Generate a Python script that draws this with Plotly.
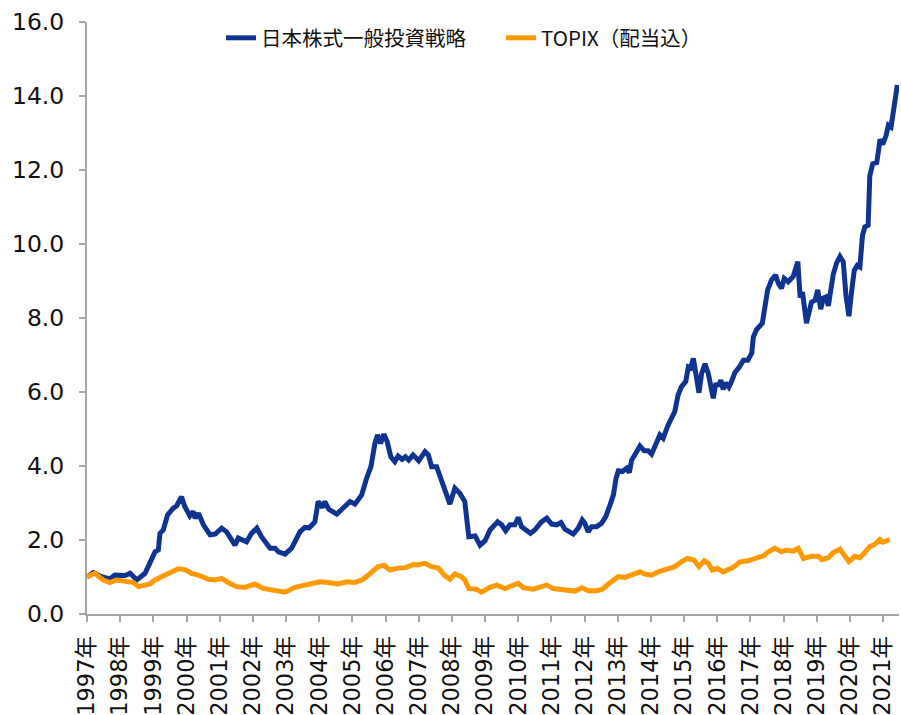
import plotly.graph_objects as go

# ---- data ----
strategy_name = "日本株式一般投資戦略"
topix_name = "TOPIX（配当込）"

strategy_t = [
    1997.00, 1997.19, 1997.44, 1997.69, 1997.84, 1998.15, 1998.30, 1998.50, 1998.75, 1998.90,
    1999.05, 1999.15, 1999.20, 1999.30, 1999.43, 1999.60, 1999.70, 1999.85, 1999.95, 2000.10,
    2000.20, 2000.26, 2000.36, 2000.51, 2000.71, 2000.86, 2001.06, 2001.21, 2001.46, 2001.56,
    2001.81, 2001.96, 2002.12, 2002.26, 2002.52, 2002.67, 2002.77, 2002.97, 2003.17, 2003.42,
    2003.57, 2003.70, 2003.87, 2003.97, 2004.10, 2004.17, 2004.29, 2004.53, 2004.72, 2004.93,
    2005.08, 2005.28, 2005.43, 2005.56, 2005.68, 2005.76, 2005.85, 2005.95, 2006.05, 2006.16,
    2006.28, 2006.38, 2006.50, 2006.60, 2006.70, 2006.83, 2007.00, 2007.19, 2007.29, 2007.39,
    2007.54, 2007.69, 2007.81, 2007.94, 2008.09, 2008.24, 2008.39, 2008.51, 2008.70, 2008.85,
    2009.00, 2009.15, 2009.38, 2009.50, 2009.62, 2009.75, 2009.90, 2010.00, 2010.10, 2010.25,
    2010.37, 2010.50, 2010.70, 2010.86, 2011.01, 2011.16, 2011.29, 2011.41, 2011.56, 2011.66,
    2011.81, 2011.93, 2012.01, 2012.11, 2012.21, 2012.36, 2012.51, 2012.64, 2012.77, 2012.87,
    2012.95, 2013.02, 2013.14, 2013.27, 2013.35, 2013.42, 2013.54, 2013.67, 2013.80, 2013.92,
    2014.02, 2014.17, 2014.27, 2014.37, 2014.52, 2014.72, 2014.82, 2014.92, 2015.05, 2015.13,
    2015.20, 2015.28, 2015.35, 2015.45, 2015.53, 2015.63, 2015.73, 2015.81, 2015.88, 2015.95,
    2016.05, 2016.11, 2016.18, 2016.25, 2016.35, 2016.43, 2016.53, 2016.66, 2016.79, 2016.92,
    2017.04, 2017.09, 2017.19, 2017.36, 2017.44, 2017.52, 2017.64, 2017.76, 2017.84, 2017.94,
    2018.02, 2018.14, 2018.29, 2018.43, 2018.50, 2018.57, 2018.69, 2018.84, 2018.95, 2019.03,
    2019.12, 2019.20, 2019.28, 2019.35, 2019.50, 2019.60, 2019.70, 2019.80, 2019.88, 2019.97,
    2020.05, 2020.13, 2020.22, 2020.30, 2020.38, 2020.45, 2020.55, 2020.60, 2020.69, 2020.81,
    2020.91, 2020.99, 2021.09, 2021.16, 2021.24, 2021.34, 2021.43,
]
strategy_v = [
    1.00, 1.12, 1.01, 0.95, 1.05, 1.04, 1.10, 0.92, 1.10, 1.37,
    1.68, 1.73, 2.18, 2.27, 2.68, 2.86, 2.92, 3.17, 2.90, 2.65,
    2.77, 2.59, 2.72, 2.41, 2.14, 2.16, 2.32, 2.22, 1.86, 2.05,
    1.95, 2.18, 2.32, 2.09, 1.78, 1.78, 1.68, 1.62, 1.78, 2.22,
    2.34, 2.33, 2.49, 3.04, 2.88, 3.04, 2.83, 2.70, 2.88, 3.04,
    2.97, 3.22, 3.67, 3.98, 4.61, 4.84, 4.61, 4.86, 4.66, 4.25,
    4.12, 4.27, 4.18, 4.25, 4.16, 4.30, 4.14, 4.39, 4.30, 3.98,
    3.98, 3.58, 3.26, 2.97, 3.40, 3.26, 3.04, 2.09, 2.11, 1.86,
    1.98, 2.27, 2.49, 2.41, 2.25, 2.41, 2.41, 2.61, 2.36, 2.27,
    2.18, 2.27, 2.49, 2.59, 2.43, 2.41, 2.47, 2.29, 2.22, 2.16,
    2.32, 2.54, 2.45, 2.22, 2.36, 2.36, 2.45, 2.63, 2.95, 3.22,
    3.67, 3.87, 3.85, 3.94, 3.82, 4.16, 4.34, 4.54, 4.41, 4.41,
    4.32, 4.61, 4.84, 4.75, 5.11, 5.47, 5.92, 6.14, 6.28, 6.68,
    6.65, 6.91, 6.50, 5.98, 6.50, 6.76, 6.50, 6.05, 5.83, 6.19,
    6.20, 6.32, 6.07, 6.25, 6.13, 6.28, 6.52, 6.67, 6.86, 6.86,
    7.05, 7.49, 7.69, 7.86, 8.31, 8.76, 9.03, 9.16, 8.94, 8.80,
    9.07, 8.98, 9.12, 9.52, 8.55, 8.70, 7.86, 8.43, 8.48, 8.76,
    8.24, 8.54, 8.57, 8.33, 9.19, 9.49, 9.66, 9.52, 8.62, 8.05,
    8.71, 9.28, 9.42, 9.38, 10.23, 10.46, 10.51, 11.84, 12.17, 12.20,
    12.83, 12.69, 12.93, 13.21, 13.16, 13.83, 14.30,
]

topix_t = [
    1997.00, 1997.24, 1997.49, 1997.69, 1997.89, 1998.20, 1998.40, 1998.55, 1998.75, 1998.90,
    1999.05, 1999.25, 1999.50, 1999.75, 1999.95, 2000.15, 2000.36, 2000.66, 2000.86, 2001.06,
    2001.26, 2001.51, 2001.76, 2002.06, 2002.31, 2002.61, 2002.97, 2003.27, 2003.57, 2003.82,
    2004.02, 2004.22, 2004.57, 2004.83, 2005.08, 2005.33, 2005.58, 2005.78, 2005.96, 2006.13,
    2006.38, 2006.59, 2006.84, 2006.99, 2007.19, 2007.39, 2007.59, 2007.77, 2007.94, 2008.09,
    2008.29, 2008.39, 2008.51, 2008.74, 2008.89, 2009.15, 2009.35, 2009.60, 2009.80, 2010.00,
    2010.15, 2010.45, 2010.70, 2010.86, 2011.06, 2011.31, 2011.56, 2011.71, 2011.93, 2012.11,
    2012.36, 2012.54, 2012.72, 2012.87, 2013.02, 2013.22, 2013.42, 2013.67, 2013.82, 2014.02,
    2014.22, 2014.47, 2014.72, 2014.92, 2015.10, 2015.30, 2015.45, 2015.61, 2015.73, 2015.85,
    2016.01, 2016.18, 2016.33, 2016.48, 2016.69, 2016.94, 2017.14, 2017.39, 2017.54, 2017.74,
    2017.94, 2018.09, 2018.29, 2018.44, 2018.60, 2018.84, 2019.05, 2019.15, 2019.35, 2019.50,
    2019.70, 2019.85, 2019.97, 2020.15, 2020.30, 2020.45, 2020.60, 2020.75, 2020.90, 2020.99,
    2021.20,
]
topix_v = [
    1.01, 1.10, 0.92, 0.85, 0.92, 0.87, 0.85, 0.74, 0.78, 0.81,
    0.92, 1.01, 1.10, 1.22, 1.20, 1.10, 1.05, 0.94, 0.92, 0.96,
    0.85, 0.74, 0.72, 0.81, 0.69, 0.63, 0.59, 0.72, 0.77, 0.81,
    0.87, 0.86, 0.81, 0.87, 0.85, 0.94, 1.14, 1.28, 1.31, 1.19,
    1.24, 1.25, 1.34, 1.33, 1.37, 1.28, 1.24, 1.05, 0.94, 1.08,
    1.01, 0.92, 0.69, 0.67, 0.59, 0.72, 0.78, 0.69, 0.76, 0.83,
    0.71, 0.67, 0.74, 0.78, 0.69, 0.67, 0.62, 0.62, 0.71, 0.63,
    0.63, 0.67, 0.81, 0.92, 1.01, 0.99, 1.05, 1.14, 1.08, 1.05,
    1.14, 1.21, 1.28, 1.41, 1.50, 1.46, 1.28, 1.44, 1.37, 1.19,
    1.23, 1.14, 1.21, 1.26, 1.41, 1.44, 1.50, 1.57, 1.68, 1.78,
    1.68, 1.73, 1.70, 1.78, 1.50, 1.56, 1.56, 1.47, 1.52, 1.66,
    1.75, 1.56, 1.42, 1.56, 1.52, 1.66, 1.82, 1.88, 2.01, 1.94,
    2.01,
]

year_ticks = list(range(1997, 2022))
year_labels = [f"{y}年" for y in year_ticks]
y_ticks = [0, 2, 4, 6, 8, 10, 12, 14, 16]

BLUE = "#0f3391"
ORANGE = "#ff9900"
AXIS = "#a6a6a6"

fig = go.Figure()
fig.add_trace(go.Scatter(x=strategy_t, y=strategy_v, mode="lines", name=strategy_name,
                         line=dict(color=BLUE, width=5)))
fig.add_trace(go.Scatter(x=topix_t, y=topix_v, mode="lines", name=topix_name,
                         line=dict(color=ORANGE, width=5)))

fig.update_layout(
    width=901, height=715,
    margin=dict(l=87, r=2, t=22, b=101, autoexpand=False),
    paper_bgcolor="white", plot_bgcolor="white",
    showlegend=True,
    legend=dict(orientation="h", x=0.165, xanchor="left", y=0.973, yanchor="middle",
                font=dict(family="Noto Sans CJK JP", size=20.5, color="#111111"),
                bgcolor="rgba(0,0,0,0)", itemwidth=30, entrywidth=235, tracegroupgap=0),
    font=dict(family="DejaVu Sans, Noto Sans CJK JP", color="#111111"),
)
fig.update_xaxes(
    range=[1997.0, 2021.48], tickmode="array", tickvals=year_ticks, ticktext=year_labels,
    tickangle=-90, tickfont=dict(family="DejaVu Sans, Noto Sans CJK JP", size=22.5, color="#111111"),
    ticklabelstandoff=5,
    showline=True, linecolor=AXIS, linewidth=2, ticks="outside", ticklen=6, tickcolor=AXIS,
    tickwidth=1.5, showgrid=False, zeroline=False, fixedrange=True, automargin=False,
)
fig.update_yaxes(
    range=[0, 16], tickmode="array", tickvals=y_ticks, tickformat=".1f",
    tickfont=dict(family="DejaVu Sans", size=23.5, color="#111111"),
    ticklabelstandoff=10,
    showline=True, linecolor=AXIS, linewidth=2, ticks="outside", ticklen=6, tickcolor=AXIS,
    tickwidth=1.5, showgrid=False, zeroline=False, fixedrange=True, automargin=False,
)

# remove the default page margin so the figure fills the window exactly
fig.write_html("out.html",
               config={"displayModeBar": False},
               post_script="document.body.style.margin='0';document.body.style.overflow='hidden';")
